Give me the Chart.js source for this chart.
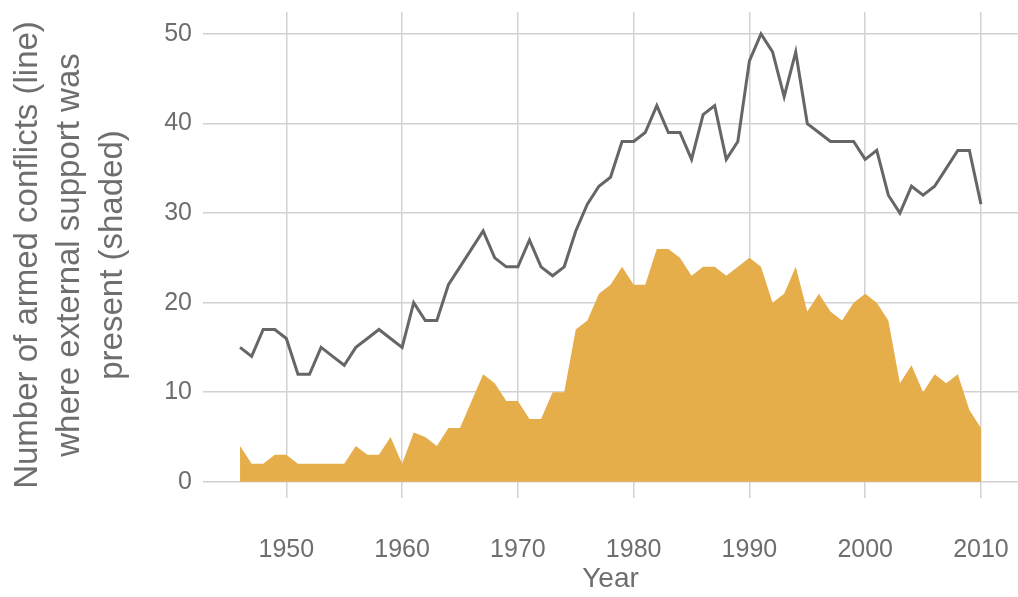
<!DOCTYPE html>
<html>
<head>
<meta charset="utf-8">
<script src="https://cdn.jsdelivr.net/npm/chart.js@4/dist/chart.umd.min.js"></script>
<style>
  html, body { margin: 0; padding: 0; background: #ffffff; }
  #wrap { width: 1018px; height: 597px; }
</style>
</head>
<body>
<div id="wrap"><canvas id="c" width="1018" height="597"></canvas></div>
<script>
const years = [1946,1947,1948,1949,1950,1951,1952,1953,1954,1955,1956,1957,1958,1959,
  1960,1961,1962,1963,1964,1965,1966,1967,1968,1969,1970,1971,1972,1973,1974,1975,
  1976,1977,1978,1979,1980,1981,1982,1983,1984,1985,1986,1987,1988,1989,1990,1991,
  1992,1993,1994,1995,1996,1997,1998,1999,2000,2001,2002,2003,2004,2005,2006,2007,
  2008,2009,2010];

// Number of armed conflicts (line)
const conflicts = [15,14,17,17,16,12,12,15,14,13,15,16,17,16,
  15,20,18,18,22,24,26,28,25,24,24,27,24,23,24,28,
  31,33,34,38,38,39,42,39,39,36,41,42,36,38,47,50,
  48,43,48,40,39,38,38,38,36,37,32,30,33,32,33,35,
  37,37,31];

// Conflicts where external support was present (shaded)
const externalSupport = [4,2,2,3,3,2,2,2,2,2,4,3,3,5,
  2,5.5,5,4,6,6,9,12,11,9,9,7,7,10,10,17,
  18,21,22,24,22,22,26,26,25,23,24,24,23,24,25,24,
  20,21,24,19,21,19,18,20,21,20,18,11,13,10,12,11,
  12,8,6];

const xTicks = [1950,1960,1970,1980,1990,2000,2010];
const yTicks = [0,10,20,30,40,50];

const xTitle = 'Year';
const yTitle = ['Number of armed conflicts (line)', 'where external support was', 'present (shaded)'];

const FONT = "'Liberation Sans', Arial, sans-serif";
Chart.defaults.font.family = FONT;

const linePts = years.map((y, i) => ({x: y, y: conflicts[i]}));
const areaPts = years.map((y, i) => ({x: y, y: externalSupport[i]}));

new Chart(document.getElementById('c'), {
  type: 'line',
  data: {
    datasets: [
      {
        label: 'Armed conflicts',
        data: linePts,
        borderColor: '#666666',
        borderWidth: 3,
        pointRadius: 0,
        tension: 0,
        fill: false,
        borderJoinStyle: 'miter'
      },
      {
        label: 'External support present',
        data: areaPts,
        borderWidth: 0,
        borderColor: 'rgba(0,0,0,0)',
        backgroundColor: '#E5AE4B',
        pointRadius: 0,
        tension: 0,
        fill: 'origin'
      }
    ]
  },
  options: {
    responsive: false,
    animation: false,
    devicePixelRatio: 1,
    layout: { padding: { top: 12, left: 0, right: 0, bottom: 0 } },
    plugins: {
      legend: { display: false },
      tooltip: { enabled: false }
    },
    scales: {
      x: {
        type: 'linear',
        min: 1942.8,
        max: 2013.2,
        afterBuildTicks: (s) => { s.ticks = xTicks.map(v => ({value: v})); },
        afterFit: (s) => { s.height = 99; s.paddingLeft = 0; s.paddingRight = 0; },
        border: { display: false },
        grid: { color: '#d2d2d2', lineWidth: 1.5, drawTicks: false },
        ticks: {
          color: '#6e6e6e',
          font: { size: 25 },
          padding: 37,
          maxRotation: 0,
          callback: (v) => String(v)
        },
        title: {
          display: true,
          text: xTitle,
          color: '#6e6e6e',
          font: { size: 28, lineHeight: 1.2 },
          padding: { top: 0, bottom: 1 }
        }
      },
      y: {
        type: 'linear',
        min: -1.82,
        max: 52.46,
        afterBuildTicks: (s) => { s.ticks = yTicks.map(v => ({value: v})); },
        afterFit: (s) => { s.width = 203; s.paddingTop = 0; s.paddingBottom = 0; },
        border: { display: false },
        grid: { color: '#d2d2d2', lineWidth: 1.5, drawTicks: false },
        ticks: {
          color: '#6e6e6e',
          font: { size: 25 },
          padding: 11,
          callback: (v) => String(v)
        },
        title: {
          display: true,
          text: yTitle,
          color: '#6e6e6e',
          font: { size: 33, lineHeight: 1.28 },
          padding: { top: 7, bottom: 0 }
        }
      }
    }
  }
});
</script>
</body>
</html>
